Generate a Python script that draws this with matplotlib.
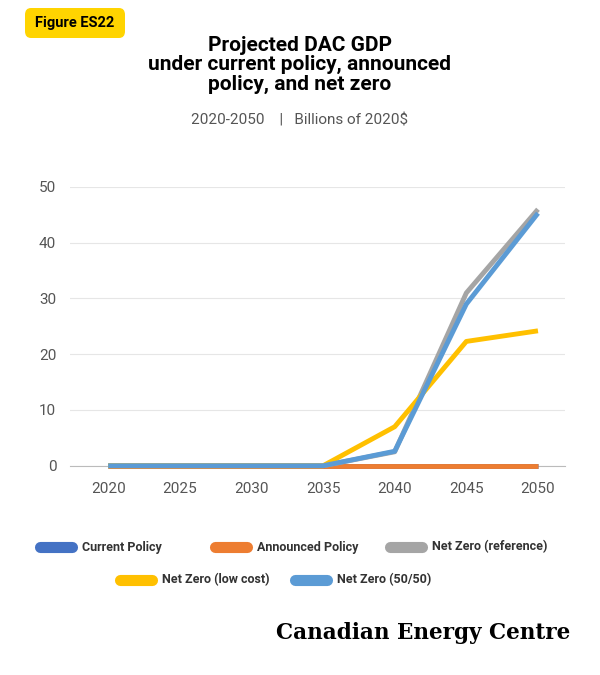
import matplotlib
matplotlib.use("Agg")
import matplotlib.pyplot as plt
from matplotlib.patches import FancyBboxPatch
from matplotlib.lines import Line2D

years = [2020, 2025, 2030, 2035, 2040, 2045, 2050]
current = [0, 0, 0, 0, 0, 0, 0]
announced = [0, 0, 0, 0, 0, 0, 0]
nz_ref = [0, 0, 0, 0, 2.5, 31, 46]
nz_low = [0, 0, 0, 0, 7, 22.3, 24.2]
nz_5050 = [0, 0, 0, 0, 2.6, 29, 45.3]
names = ["Current Policy", "Announced Policy", "Net Zero (reference)", "Net Zero (low cost)", "Net Zero (50/50)"]
colors = ["#4472C4", "#ED7D31", "#A5A5A5", "#FFC000", "#5B9BD5"]

plt.rcParams['font.family'] = ['Roboto', 'DejaVu Sans']
fig = plt.figure(figsize=(6, 6.75), dpi=100)
ax = fig.add_axes([0.117, 0.310, 0.825, 0.413])
series = [current, announced, nz_ref, nz_low, nz_5050]
for i in range(5):
    ax.plot(years, series[i], color=colors[i], lw=3.5, clip_on=False, solid_capstyle='butt', zorder=3)
ax.set_xlim(2017.35, 2051.9)
ax.set_ylim(0, 50)
ax.set_xticks(years)
ax.set_yticks([0, 10, 20, 30, 40, 50])
ax.grid(axis='y', color='#e6e6e6', lw=0.8)
ax.set_axisbelow(True)
for s in ['top', 'right', 'left']:
    ax.spines[s].set_visible(False)
ax.spines['bottom'].set_color('#bbbbbb')
ax.tick_params(length=0, labelsize=11, colors='#555555', pad=12)
ax.tick_params(axis='y', pad=10)

fig.patches.append(FancyBboxPatch((25/600, 1-38/675), 100/600, 30/675, boxstyle="round,pad=0,rounding_size=0.01",
                                  transform=fig.transFigure, fc='#FFD400', ec='none'))
fig.text(75/600, 1-23/675, "Figure ES22", ha='center', va='center', fontsize=10.5, weight='bold')
fig.text(0.5, 1-65/675, "Projected DAC GDP\nunder current policy, announced\npolicy, and net zero",
         ha='center', va='center', fontsize=15, weight='bold', linespacing=1.0)
fig.text(0.5, 1-120/675, "2020-2050    |   Billions of 2020$", ha='center', va='center', fontsize=11, color='#555555')

pos = [(40, 547), (215, 547), (390, 547), (120, 580), (295, 580)]
for (x, y), n, c in zip(pos, names, colors):
    fig.add_artist(Line2D([x/600, (x+32)/600], [1-y/675]*2, color=c, lw=8, solid_capstyle='round', transform=fig.transFigure))
    fig.text((x+42)/600, 1-y/675, n, va='center', fontsize=9, weight='bold', color='#333333')

fig.text(570/600, 1-633/675, "Canadian Energy Centre", ha='right', va='center', fontsize=15.5, weight='bold',
         family='DejaVu Serif')
fig.savefig("out.png", dpi=100)
